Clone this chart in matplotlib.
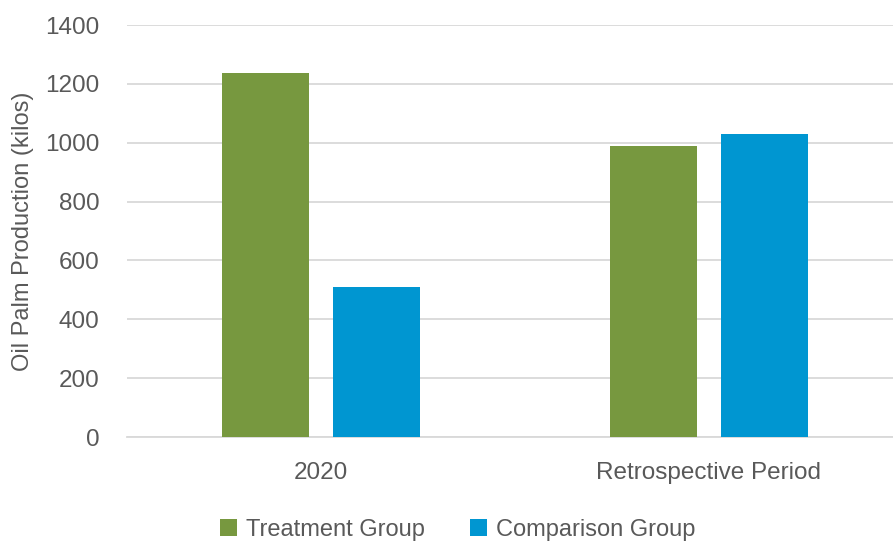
import matplotlib.pyplot as plt
import numpy as np

plt.rcParams['font.family'] = ['Liberation Sans', 'DejaVu Sans']

categories = ["2020", "Retrospective Period"]
treatment = [1237, 989]
comparison = [510, 1030]
series_names = ["Treatment Group", "Comparison Group"]

green = '#77983F'
blue = '#0096D1'
grey_text = '#595959'
grid_col = '#D9D9D9'

fig = plt.figure(figsize=(8.93, 5.48), dpi=100)
ax = fig.add_axes([127/893, (548-437)/548, 776/893, (437-25)/548])

x = np.arange(len(categories))
w = 0.224
off = 0.143
ax.bar(x - off, treatment, w, color=green, label=series_names[0], zorder=3)
ax.bar(x + off, comparison, w, color=blue, label=series_names[1], zorder=3)

ax.set_xlim(-0.5, 1.5)
ax.set_ylim(0, 1400)
ax.set_yticks(np.arange(0, 1401, 200))
ax.yaxis.grid(True, color=grid_col, linewidth=1.3, zorder=0)
ax.set_axisbelow(True)
for s in ['top', 'right', 'left']:
    ax.spines[s].set_visible(False)
ax.spines['bottom'].set_color(grid_col)
ax.spines['bottom'].set_linewidth(1.3)
ax.tick_params(length=0, labelsize=17.5, colors=grey_text)
ax.tick_params(axis='y', pad=20)
ax.tick_params(axis='x', pad=18)
ax.set_xticks(x)
ax.set_xticklabels(categories)
ax.set_ylabel("Oil Palm Production (kilos)", fontsize=17, color=grey_text)
ax.yaxis.set_label_coords(-93/776, 0.5)

leg = fig.legend(loc='center', bbox_to_anchor=(458/893, 1 - 530/548), ncol=2, frameon=False,
                 fontsize=17, handlelength=0.7, handleheight=0.7, handletextpad=0.4,
                 columnspacing=1.9, labelcolor=grey_text)

fig.savefig('out.png', dpi=100)
